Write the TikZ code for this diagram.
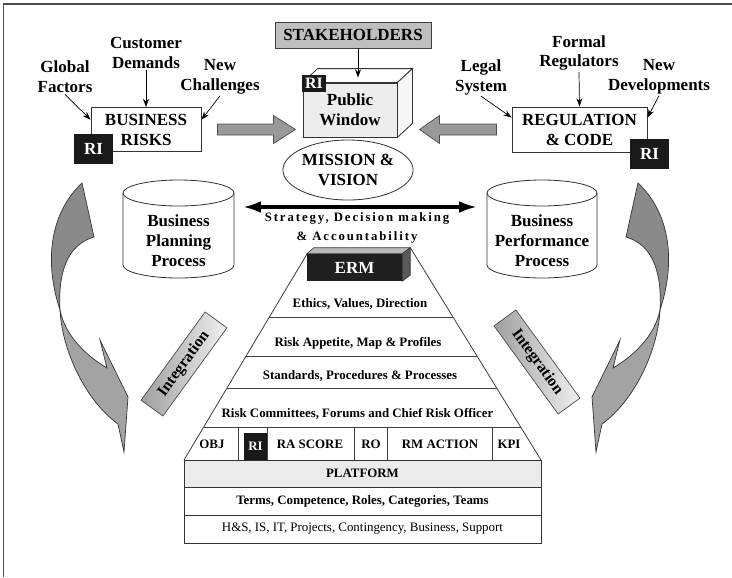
\documentclass[tikz,border=0pt]{standalone}
\usepackage{fontspec}
\setmainfont{Liberation Serif}
\usetikzlibrary{arrows.meta,calc,shapes.geometric}
\begin{document}
\begin{tikzpicture}[x=0.03cm,y=-0.03cm,
  every node/.style={inner sep=1pt},
  big/.style={font=\bfseries\fontsize{14.5}{17}\selectfont, align=center},
  sm/.style={font=\bfseries\fontsize{11}{13}\selectfont, align=center},
  box/.style={draw=black!80, line width=0.8pt, fill=white, big},
  ribox/.style={fill=black!90, text=white, inner sep=0pt, font=\bfseries\fontsize{14.5}{17}\selectfont},
  arr/.style={-{Stealth[length=7pt,width=5pt]}, line width=0.6pt},
  blockarr/.style={draw=black!70, fill=gray!80, line width=0.6pt},
  cyl/.style={draw=black!80, line width=0.7pt},
  rowline/.style={draw=black!75, line width=0.7pt},
  intlabel/.style={draw=black!70, line width=0.6pt, minimum width=3.27cm, minimum height=0.81cm,
    font=\bfseries\fontsize{13.5}{15}\selectfont},
  twist/.style={draw=black!80, line width=0.6pt},
  backface/.style={fill=gray!92},
  frontface/.style={fill=gray!72},
]
\useasboundingbox (0,0) rectangle (732,577);
\draw[black!70, line width=1.6pt] (3.5,577) -- (3.5,4) -- (732,4);

% ---- curved arrows (left and right) ----
\path[backface] (82,183) -- (94,237) .. controls (66,245) and (58,275) .. (60,310)
   .. controls (45,265) and (48,215) .. (82,183) -- cycle;
\draw[twist] (82,183) -- (94,237) .. controls (66,245) and (58,275) .. (60,310)
   .. controls (45,265) and (48,215) .. (82,183) -- cycle;
\path[frontface] (60,310) .. controls (62,350) and (85,400) .. (118,424) -- (124,452) -- (128,397)
   -- (100,340) -- (107,368) .. controls (85,355) and (65,335) .. (60,310) -- cycle;
\draw[twist] (60,310) .. controls (62,350) and (85,400) .. (118,424) -- (124,452) -- (128,397)
   -- (100,340) -- (107,368) .. controls (85,355) and (65,335) .. (60,310) -- cycle;

\path[backface] (638,183) -- (626,237) .. controls (654,245) and (662,275) .. (660,310)
   .. controls (675,265) and (672,215) .. (638,183) -- cycle;
\draw[twist] (638,183) -- (626,237) .. controls (654,245) and (662,275) .. (660,310)
   .. controls (675,265) and (672,215) .. (638,183) -- cycle;
\path[frontface] (660,310) .. controls (658,350) and (635,400) .. (602,424) -- (596,452) -- (592,397)
   -- (620,340) -- (613,368) .. controls (635,355) and (655,335) .. (660,310) -- cycle;
\draw[twist] (660,310) .. controls (658,350) and (635,400) .. (602,424) -- (596,452) -- (592,397)
   -- (620,340) -- (613,368) .. controls (635,355) and (655,335) .. (660,310) -- cycle;

% ---- top text labels ----
\node[big] (gf) at (65,77) {Global\\Factors};
\node[big] (cd) at (146,53) {Customer\\Demands};
\node[big] (nc) at (220,77) {New\\Challenges};
\node[big] (ls) at (481,77) {Legal\\System};
\node[big] (fr) at (579,53) {Formal\\Regulators};
\node[big] (nd) at (659,77) {New\\Developments};

% ---- boxes ----
\node[box, minimum width=3.3cm, minimum height=1.32cm] (br) at (146,129.5) {BUSINESS\\RISKS};
\node[ribox, minimum width=1.17cm, minimum height=0.9cm] (ri1) at (93.5,149) {RI};
\node[box, minimum width=4.05cm, minimum height=1.35cm] (rc) at (579.5,129.5) {REGULATION\\\& CODE};
\node[ribox, minimum width=1.17cm, minimum height=0.9cm] (ri3) at (649.5,154) {RI};

\draw[arr] (gf.south) -- (br.170);
\draw[arr] (cd.south) -- (br.north);
\draw[arr] (nc.south) -- (br.10);
\draw[arr] (ls.south) -- (rc.170);
\draw[arr] (fr.south) -- (rc.north);
\draw[arr] (nd.south) -- (rc.10);

% ---- stakeholders and public window ----
\node[big, draw=black!75, line width=0.7pt, fill=gray!50, minimum width=4.68cm, minimum height=0.78cm] (sh) at (353,35) {STAKEHOLDERS};
\node[big, draw=black!80, line width=0.7pt, fill=gray!14, minimum width=2.82cm, minimum height=1.62cm] (pw) at (350,110) {Public\\Window};
\draw[black!80, line width=0.7pt, fill=white] (pw.north west) -- ++(15,-14) -- ($(pw.north east)+(15,-14)$) -- (pw.north east) -- cycle;
\draw[black!80, line width=0.7pt, fill=gray!6] (pw.north east) -- ++(15,-14) -- ($(pw.south east)+(15,-14)$) -- (pw.south east) -- cycle;
\node[ribox, minimum width=0.72cm, minimum height=0.51cm, font=\bfseries\fontsize{13.5}{15}\selectfont] (ri2) at (314,83.5) {RI};
\draw[arr] ($(sh.south)+(5,0)$) -- ($(pw.north)+(8,-5)$);

% ---- block arrows ----
\draw[blockarr] ($(br.east)+(16,-5.5)$) -- ++(56,0) -- ++(0,-8.5) -- ++(22,14) -- ++(-22,14) -- ++(0,-8.5) -- ++(-56,0) -- cycle;
\draw[blockarr] ($(rc.west)+(-15,-5.5)$) -- ++(-57,0) -- ++(0,-8.5) -- ++(-20,14) -- ++(20,14) -- ++(0,-8.5) -- ++(57,0) -- cycle;

% ---- mission ----
\node[big, draw=black!80, line width=0.7pt, ellipse, minimum width=3.42cm, minimum height=1.8cm, inner sep=0pt] (mv) at (348,170) {MISSION \&\\VISION};

% ---- cylinders ----
\fill[white] (123,193) -- (123,265) arc[start angle=180, end angle=0, x radius=55.5, y radius=13] -- (234,193) -- cycle;
\draw[cyl] (123,193) -- (123,265) arc[start angle=180, end angle=0, x radius=55.5, y radius=13] -- (234,193);
\draw[cyl, fill=white] (178.5,193) ellipse[x radius=55.5, y radius=13];
\node[big, minimum width=3.33cm] (bpp) at (178.5,241) {Business\\Planning\\Process};

\fill[white] (487,193) -- (487,265) arc[start angle=180, end angle=0, x radius=55, y radius=13] -- (597,193) -- cycle;
\draw[cyl] (487,193) -- (487,265) arc[start angle=180, end angle=0, x radius=55, y radius=13] -- (597,193);
\draw[cyl, fill=white] (542,193) ellipse[x radius=55, y radius=13];
\node[big, minimum width=3.3cm] (bpe) at (542,241) {Business\\Performance\\Process};

\draw[line width=2.6pt, {Latex[length=15pt,width=10pt]}-{Latex[length=15pt,width=10pt]}]
  ($(bpp.east)+(9,-34)$) -- ($(bpe.west)+(-10,-34)$);
\node[font=\bfseries\fontsize{10.9}{16}\selectfont\addfontfeature{LetterSpace=15}, align=center] (sdm) at (357,228) {Strategy, Decision making\\\& Accountability};

% ---- pyramid ----
\fill[white] (307,254) -- (184,460) -- (541,460) -- (410.5,248) -- cycle;
\draw[rowline] (307,254) -- (184,460);
\draw[rowline] (410.5,248) -- (541,460);
\draw[rowline] (269.4,317) -- (453,317);
\draw[rowline] (246.1,356) -- (477,356);
\draw[rowline] (227,388) -- (496.7,388);
\draw[rowline] (203.7,427) -- (520.7,427);
\foreach \xx in {238,267,354,387,492} \draw[rowline] (\xx,427) -- (\xx,460);

\node[fill=black!88, minimum width=2.85cm, minimum height=0.81cm, text=white, font=\bfseries\fontsize{14.5}{17}\selectfont] (erm) at (354.5,267.5) {ERM};
\draw[black!80, line width=0.5pt, fill=gray!55] (erm.north west) -- ++(7,-6) -- ($(erm.north east)+(8,-6)$) -- (erm.north east) -- cycle;
\draw[black!80, line width=0.5pt, fill=black!65] (erm.north east) -- ++(8,-6) -- ($(erm.south east)+(8,-6)$) -- (erm.south east) -- cycle;

\node[sm] (r1) at (360,304) {Ethics, Values, Direction};
\node[sm] (r2) at (358,343) {Risk Appetite, Map \& Profiles};
\node[sm] (r3) at (360,376) {Standards, Procedures \& Processes};
\node[sm] (r4) at (357.5,414) {Risk Committees, Forums and Chief Risk Officer};
\node[sm] (c1) at (212,444) {OBJ};
\node[sm, fill=black!90, text=white, minimum width=0.69cm, minimum height=0.81cm, inner sep=0pt] (c2) at (255.5,446.5) {RI};
\node[sm] (c3) at (310,444) {RA SCORE};
\node[sm] (c4) at (371,444) {RO};
\node[sm] (c5) at (440,444) {RM ACTION};
\node[sm] (c6) at (509,444) {KPI};

\node[sm, draw=black!80, line width=0.7pt, fill=gray!16, minimum width=10.71cm, minimum height=0.81cm] (plat) at (362.5,473.5) {PLATFORM};
\node[sm, draw=black!80, line width=0.7pt, fill=white, minimum width=10.71cm, minimum height=0.84cm] (terms) at (362.5,501) {Terms, Competence, Roles, Categories, Teams};
\node[draw=black!80, line width=0.7pt, fill=white, minimum width=10.71cm, minimum height=0.84cm, font=\fontsize{11}{13}\selectfont] (hs) at (362.5,529) {H\&S, IS, IT, Projects, Contingency, Business, Support};

% ---- integration labels ----
\node[intlabel, rotate=54, left color=gray!75, right color=gray!12] (int1) at (184,364) {Integration};
\node[intlabel, rotate=-54, left color=gray!75, right color=gray!12] (int2) at (537,362) {Integration};
\end{tikzpicture}
\end{document}
